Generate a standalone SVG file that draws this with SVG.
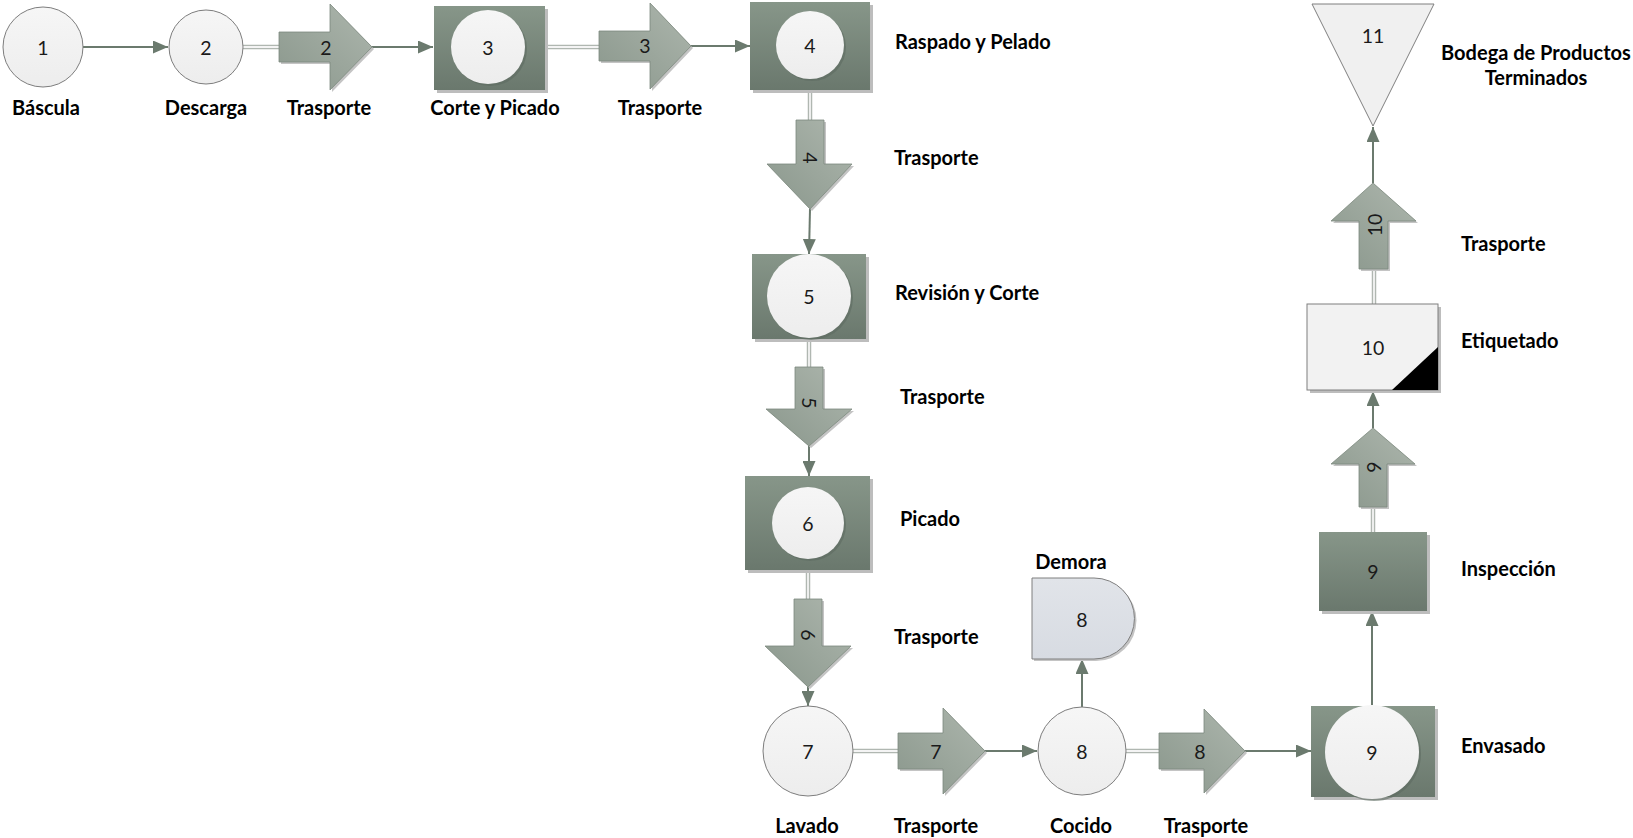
<svg xmlns="http://www.w3.org/2000/svg" width="1633" height="838" viewBox="0 0 1633 838">
<style>
.lbl{font-family:Lato,"Open Sans",sans-serif;font-weight:700;font-size:20px;fill:#000}
.mid{text-anchor:middle}
.num{font-family:Lato,"Open Sans",sans-serif;font-size:19.5px;fill:#1a1a1a;text-anchor:middle;dominant-baseline:central}
.op{fill:url(#gRect)}
.sh{fill:#bdbdbd}
.circ{fill:url(#gCirc);stroke:#7d7d7d;stroke-width:1}
.inner{fill:url(#gCirc)}
.innersh{fill:#5e6b61;opacity:0.6}
.tr{fill:url(#gArr);stroke:#7c897e;stroke-width:0.8}
.trsh{fill:#c4c4c4}
.con{stroke:#6b7a6e;stroke-width:2;fill:none;marker-end:url(#ah)}
.dbo{stroke:#b0b7b1;stroke-width:4.5;fill:none}
.dbi{stroke:#f4f4f4;stroke-width:1.8;fill:none}
</style>
<defs>
<linearGradient id="gRect" x1="0" y1="0" x2="0" y2="1">
<stop offset="0" stop-color="#879689"/>
<stop offset="1" stop-color="#6a786d"/>
</linearGradient>
<linearGradient id="gArr" x1="0" y1="1" x2="1" y2="0">
<stop offset="0" stop-color="#8a978c"/>
<stop offset="1" stop-color="#adb6ad"/>
</linearGradient>
<linearGradient id="gCirc" x1="0" y1="0" x2="0" y2="1">
<stop offset="0" stop-color="#f6f6f6"/>
<stop offset="1" stop-color="#ededed"/>
</linearGradient>
<linearGradient id="gDem" x1="0" y1="0" x2="0" y2="1">
<stop offset="0" stop-color="#e1e4e9"/>
<stop offset="1" stop-color="#d7dbe2"/>
</linearGradient>
<marker id="ah" markerUnits="userSpaceOnUse" markerWidth="15" markerHeight="13" viewBox="0 0 15 13" refX="15" refY="6.5" orient="auto">
<path d="M0,0 L15,6.5 L0,13 z" fill="#6b7a6e"/>
</marker>
</defs>
<rect width="1633" height="838" fill="#ffffff"/>

<g id="connectors">
<path class="con" d="M83,47 H168"/>
<path class="dbo" d="M243,47 H280"/><path class="dbi" d="M243,47 H280"/>
<path class="con" d="M372,47 H433"/>
<path class="dbo" d="M545,47 H600"/><path class="dbi" d="M545,47 H600"/>
<path class="con" d="M691,46 H750"/>
<path class="dbo" d="M810,90 V120"/><path class="dbi" d="M810,90 V120"/>
<path class="con" d="M810,209 L809,254"/>
<path class="dbo" d="M809,339 V367"/><path class="dbi" d="M809,339 V367"/>
<path class="con" d="M809,446 V476"/>
<path class="dbo" d="M808,570 V599"/><path class="dbi" d="M808,570 V599"/>
<path class="con" d="M808,687 V706"/>
<path class="dbo" d="M852,751 H899"/><path class="dbi" d="M852,751 H899"/>
<path class="con" d="M985,751 H1037"/>
<path class="con" d="M1082,707 V659"/>
<path class="dbo" d="M1126,751 H1160"/><path class="dbi" d="M1126,751 H1160"/>
<path class="con" d="M1245,751 H1311"/>
<path class="con" d="M1372,705 V611"/>
<path class="dbo" d="M1373,532 V507"/><path class="dbi" d="M1373,532 V507"/>
<path class="con" d="M1373,428 V391"/>
<path class="dbo" d="M1374,304 V269"/><path class="dbi" d="M1374,304 V269"/>
<path class="con" d="M1373,183 V127"/>
</g>

<g id="n1">
<circle class="circ" cx="43" cy="47" r="40"/>
<text class="num" x="43" y="47">1</text>
<text class="lbl mid" x="46" y="115">Báscula</text>
</g>
<g id="n2">
<circle class="circ" cx="206" cy="47" r="37"/>
<text class="num" x="206" y="47">2</text>
<text class="lbl mid" x="206" y="115">Descarga</text>
</g>
<g id="t2">
<path class="trsh" transform="translate(2,2)" d="M279,32 H330 V4 L372,47 L330,90 V62 H279 Z"/>
<path class="tr" d="M279,32 H330 V4 L372,47 L330,90 V62 H279 Z"/>
<text class="num" x="326" y="47">2</text>
<text class="lbl mid" x="329" y="115">Trasporte</text>
</g>
<g id="n3">
<rect class="sh" x="437" y="9" width="111" height="84"/>
<rect class="op" x="434" y="6" width="111" height="84"/>
<circle class="innersh" cx="490" cy="49" r="37"/>
<circle class="inner" cx="488" cy="47" r="37"/>
<text class="num" x="488" y="47">3</text>
<text class="lbl mid" x="495" y="115">Corte y Picado</text>
</g>
<g id="t3">
<path class="trsh" transform="translate(2,2)" d="M599,31 H650 V3 L691,46 L650,89 V61 H599 Z"/>
<path class="tr" d="M599,31 H650 V3 L691,46 L650,89 V61 H599 Z"/>
<text class="num" x="645" y="45">3</text>
<text class="lbl mid" x="660" y="115">Trasporte</text>
</g>
<g id="n4">
<rect class="sh" x="753" y="5" width="120" height="88"/>
<rect class="op" x="750" y="2" width="120" height="88"/>
<circle class="innersh" cx="812" cy="47" r="34"/>
<circle class="inner" cx="810" cy="45" r="34"/>
<text class="num" x="810" y="45">4</text>
<text class="lbl" x="895" y="49">Raspado y Pelado</text>
</g>
<g id="t4">
<path class="trsh" transform="translate(2,2)" d="M796,120 H824 V164 H852 L810,209 L767,164 H796 Z"/>
<path class="tr" d="M796,120 H824 V164 H852 L810,209 L767,164 H796 Z"/>
<text class="num" x="810" y="158" transform="rotate(90 810 158)">4</text>
<text class="lbl" x="894" y="165">Trasporte</text>
</g>
<g id="n5">
<rect class="sh" x="755" y="257" width="114" height="85"/>
<rect class="op" x="752" y="254" width="114" height="85"/>
<circle class="innersh" cx="811" cy="298" r="42"/>
<circle class="inner" cx="809" cy="296" r="42"/>
<text class="num" x="809" y="296">5</text>
<text class="lbl" x="895" y="300">Revisión y Corte</text>
</g>
<g id="t5">
<path class="trsh" transform="translate(2,2)" d="M795,367 H823 V409 H852 L809,446 L766,409 H795 Z"/>
<path class="tr" d="M795,367 H823 V409 H852 L809,446 L766,409 H795 Z"/>
<text class="num" x="809" y="403" transform="rotate(90 809 403)">5</text>
<text class="lbl" x="900" y="404">Trasporte</text>
</g>
<g id="n6">
<rect class="sh" x="748" y="479" width="125" height="94"/>
<rect class="op" x="745" y="476" width="125" height="94"/>
<circle class="innersh" cx="810" cy="525" r="36"/>
<circle class="inner" cx="808" cy="523" r="36"/>
<text class="num" x="808" y="523">6</text>
<text class="lbl" x="900" y="526">Picado</text>
</g>
<g id="t6">
<path class="trsh" transform="translate(2,2)" d="M794,599 H822 V646 H851 L808,687 L765,646 H794 Z"/>
<path class="tr" d="M794,599 H822 V646 H851 L808,687 L765,646 H794 Z"/>
<text class="num" x="808" y="635" transform="rotate(90 808 635)">6</text>
<text class="lbl" x="894" y="644">Trasporte</text>
</g>
<g id="n7">
<circle class="circ" cx="808" cy="751" r="45"/>
<text class="num" x="808" y="751">7</text>
<text class="lbl mid" x="807" y="833">Lavado</text>
</g>
<g id="t7">
<path class="trsh" transform="translate(2,2)" d="M898,733 H943 V708 L985,751 L943,794 V769 H898 Z"/>
<path class="tr" d="M898,733 H943 V708 L985,751 L943,794 V769 H898 Z"/>
<text class="num" x="936" y="751">7</text>
<text class="lbl mid" x="936" y="833">Trasporte</text>
</g>
<g id="n8">
<circle class="circ" cx="1082" cy="751" r="44"/>
<text class="num" x="1082" y="751">8</text>
<text class="lbl mid" x="1081" y="833">Cocido</text>
</g>
<g id="d8">
<path fill="#c4c4c4" transform="translate(2,2)" d="M1032,578 H1094 A40.5,40.5 0 0 1 1094,659 H1032 Z"/>
<path fill="url(#gDem)" stroke="#7f7f7f" stroke-width="1" d="M1032,578 H1094 A40.5,40.5 0 0 1 1094,659 H1032 Z"/>
<text class="num" x="1082" y="619">8</text>
<text class="lbl mid" x="1071" y="569">Demora</text>
</g>
<g id="t8">
<path class="trsh" transform="translate(2,2)" d="M1159,733 H1204 V709 L1245,751 L1204,793 V769 H1159 Z"/>
<path class="tr" d="M1159,733 H1204 V709 L1245,751 L1204,793 V769 H1159 Z"/>
<text class="num" x="1200" y="751">8</text>
<text class="lbl mid" x="1206" y="833">Trasporte</text>
</g>
<g id="n9">
<rect class="sh" x="1314" y="709" width="124" height="91"/>
<rect class="op" x="1311" y="706" width="124" height="91"/>
<circle class="innersh" cx="1374" cy="754" r="47"/>
<circle class="inner" cx="1372" cy="752" r="47"/>
<text class="num" x="1372" y="752">9</text>
<text class="lbl" x="1461" y="753">Envasado</text>
</g>
<g id="i9">
<rect class="sh" x="1322" y="535" width="108" height="79"/>
<rect class="op" x="1319" y="532" width="108" height="79"/>
<text class="num" x="1373" y="571">9</text>
<text class="lbl" x="1461" y="576">Inspección</text>
</g>
<g id="t9">
<path class="trsh" transform="translate(2,2)" d="M1359,507 V464 H1331 L1373,428 L1415,464 H1387 V507 Z"/>
<path class="tr" d="M1359,507 V464 H1331 L1373,428 L1415,464 H1387 V507 Z"/>
<text class="num" x="1373" y="467" transform="rotate(-90 1373 467)">9</text>
</g>
<g id="n10">
<rect class="sh" x="1310" y="307" width="131" height="86"/>
<rect fill="#f2f2f2" stroke="#7f7f7f" stroke-width="1" x="1307" y="304" width="131" height="86"/>
<path d="M1438,347 V390 H1392 Z" fill="#000"/>
<text class="num" x="1373" y="347">10</text>
<text class="lbl" x="1461" y="348">Etiquetado</text>
</g>
<g id="t10">
<path class="trsh" transform="translate(2,2)" d="M1359,269 V221 H1331 L1373,183 L1416,221 H1388 V269 Z"/>
<path class="tr" d="M1359,269 V221 H1331 L1373,183 L1416,221 H1388 V269 Z"/>
<text class="num" x="1374" y="225" transform="rotate(-90 1374 225)">10</text>
<text class="lbl" x="1461" y="251">Trasporte</text>
</g>
<g id="n11">
<path fill="#f0f0f0" stroke="#7f7f7f" stroke-width="1" d="M1312,4 H1434 L1373,126 Z"/>
<text class="num" x="1373" y="35">11</text>
<text class="lbl mid" x="1536" y="60">Bodega de Productos</text>
<text class="lbl mid" x="1536" y="85">Terminados</text>
</g>
</svg>
